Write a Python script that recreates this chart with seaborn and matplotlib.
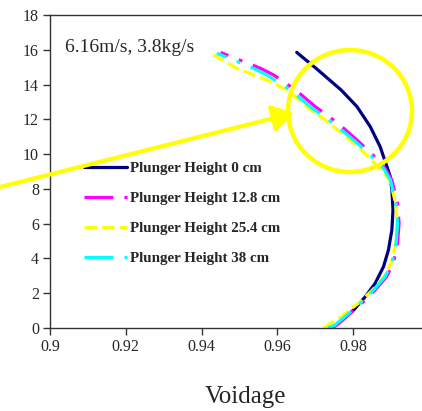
import matplotlib
matplotlib.use("Agg")
import matplotlib.pyplot as plt
import seaborn as sns
import numpy as np
import pandas as pd
from matplotlib.patches import Ellipse, FancyArrowPatch

# ---- data ----
h_0 = [0, 0.36, 1.03, 1.80, 2.57, 3.53, 4.49, 5.64, 6.79, 7.94, 8.70, 9.28,
       10.43, 11.58, 12.73, 13.69, 14.84, 15.85]
v_0 = [0.9744, 0.9766, 0.9801, 0.9832, 0.9858, 0.9880, 0.9893, 0.9902, 0.9905,
       0.9902, 0.9898, 0.9889, 0.9871, 0.9845, 0.9810, 0.9768, 0.9707, 0.9651]

h_128 = [0, 0.17, 0.84, 1.51, 2.19, 2.95, 3.72, 4.87, 6.02, 7.17, 8.51, 9.18,
         9.95, 10.81, 11.77, 12.73, 13.69, 14.55, 14.93, 15.41, 15.85]
v_128 = [0.9740, 0.9757, 0.9792, 0.9827, 0.9858, 0.9888, 0.9906, 0.9917, 0.9921,
         0.9917, 0.9902, 0.9884, 0.9852, 0.9810, 0.9760, 0.9700, 0.9648, 0.9590,
         0.9556, 0.9500, 0.9450]

h_254 = [0, 0.65, 1.50, 2.19, 2.95, 3.72, 4.87, 6.02, 7.17, 8.51, 9.76, 10.81,
         11.77, 12.73, 13.69, 14.26, 14.93, 15.70]
v_254 = [0.9722, 0.9768, 0.9818, 0.9851, 0.9881, 0.9900, 0.9912, 0.9916, 0.9912,
         0.9897, 0.9845, 0.9792, 0.9738, 0.9677, 0.9625, 0.9572, 0.9493, 0.9431]

h_38 = [0, 0.17, 0.84, 1.51, 2.19, 2.95, 3.72, 4.87, 6.02, 7.17, 8.51, 9.18,
        9.95, 10.81, 11.77, 12.73, 13.69, 14.55, 14.93, 15.41, 15.80]
v_38 = [0.9733, 0.9752, 0.9788, 0.9823, 0.9854, 0.9884, 0.9902, 0.9913, 0.9917,
        0.9913, 0.9898, 0.9880, 0.9845, 0.9801, 0.9748, 0.9686, 0.9634, 0.9572,
        0.9537, 0.9484, 0.9440]

labels = ["Plunger Height 0 cm", "Plunger Height 12.8 cm",
          "Plunger Height 25.4 cm", "Plunger Height 38 cm"]
x_ticks = [0.9, 0.92, 0.94, 0.96, 0.98]
y_ticks = [0, 2, 4, 6, 8, 10, 12, 14, 16, 18]
note = "6.16m/s, 3.8kg/s"

series = [(v_0, h_0), (v_128, h_128), (v_254, h_254), (v_38, h_38)]
colors = ["#000080", "#FF00FF", "#FFFF00", "#00FFFF"]
styles = ["-", (0, (9, 3.5, 1.2, 3.5)), (0, (3.9, 1.6)), (0, (9, 3.5, 1.2, 3.5))]

sns.set_style("white")
plt.rcParams["font.family"] = ["Liberation Serif", "DejaVu Serif"]

W, H = 422, 411
fig = plt.figure(figsize=(W / 100, H / 100), dpi=100)
left, right_px, top_px, bot_px = 50, 429, 15, 328
ax = fig.add_axes([left / W, 1 - bot_px / H, (right_px - left) / W, (bot_px - top_px) / H])

for (v, h), lab, c, ls in zip(series, labels, colors, styles):
    df = pd.DataFrame({"Voidage": v, "Height": h})
    sns.lineplot(data=df, x="Voidage", y="Height", sort=False, estimator=None,
                 ax=ax, color=c, linestyle=ls, lw=2.3, label=lab)

ax.set_xlim(0.9, 1.0)
ax.set_ylim(0, 18)
ax.set_xticks(x_ticks)
ax.set_xticklabels([f"{t:g}" for t in x_ticks])
ax.set_yticks(y_ticks)
ax.set_yticklabels([str(t) for t in y_ticks])
ax.tick_params(axis="both", direction="out", length=5, width=1, color="#333333",
               labelsize=11.5, pad=3, left=True, bottom=True)
for s in ["left", "bottom", "top"]:
    ax.spines[s].set_color("#333333")
    ax.spines[s].set_linewidth(1.0)
ax.spines["right"].set_visible(False)
ax.set_ylabel("")
ax.set_xlabel("Voidage", fontsize=18)
ax.xaxis.set_label_coords((245 - left) / (right_px - left), -0.185)

ax.text(0.904, 16.15, note, fontsize=14, va="center", ha="left")

leg = ax.legend(loc="center left", bbox_to_anchor=(76 / W, 1 - 213.5 / H),
                bbox_transform=fig.transFigure, frameon=False,
                prop={"weight": "bold", "size": 10.8}, handlelength=2.9,
                handletextpad=0.2, labelspacing=1.1, borderpad=0)

fig.add_artist(Ellipse((350 / W, 1 - 111 / H), 124 / W, 122 / H,
                       transform=fig.transFigure, fill=False,
                       edgecolor="#FFFF00", lw=3.2))
fig.add_artist(FancyArrowPatch((0, 1 - 187 / H), (294 / W, 1 - 113 / H),
                               transform=fig.transFigure, arrowstyle="-|>,head_length=8,head_width=5",
                               color="#FFFF00", lw=3.0, mutation_scale=1.6,
                               shrinkA=0, shrinkB=0))

fig.savefig("out.png", dpi=100)
